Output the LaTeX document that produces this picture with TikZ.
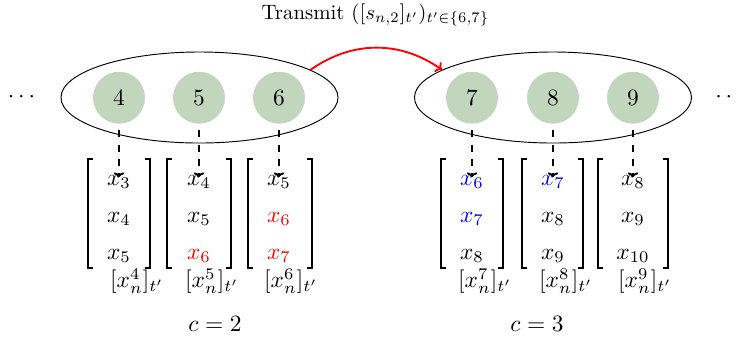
\documentclass[tikz,border=0pt]{standalone}
\usetikzlibrary{shapes.geometric,arrows.meta}
\definecolor{nodegreen}{RGB}{194,213,189}
\newcommand\mybrackets[4]{%
  \draw[brk] (#1+5,#3) -- (#1,#3) -- (#1,#4) -- (#1+5,#4);
  \draw[brk] (#2-5,#3) -- (#2,#3) -- (#2,#4) -- (#2-5,#4);}
\begin{document}
\begin{tikzpicture}[x=0.4274pt,y=-0.4274pt,
  cnode/.style={circle,fill=nodegreen,minimum size=22.2pt,inner sep=0pt},
  grp/.style={ellipse,draw,minimum width=118.4pt,minimum height=38.9pt,inner sep=0pt},
  entry/.style={inner sep=1pt},
  dasharrow/.style={dash pattern=on 3pt off 3pt,thick,shorten <=2.7pt,shorten >=-2pt,-{To[length=2pt,width=4.5pt]}},
  brk/.style={line width=0.7pt},
  lbl/.style={inner sep=0pt}]
\useasboundingbox (0,0) rectangle (737,337);
\node[scale=0.89] (title) at (375.5,15) {Transmit $([s_{n,2}]_{t'})_{t'\in\{6,7\}}$};
\node[grp] (L) at (199.5,97.5) {};
\node[grp] (R) at (553,97.5) {};
\node (dl) at (21.5,97) {$\cdots$};
\node (dr) at (729,97) {$\cdots$};
\node[cnode] (c4) at (119,97.7) {4};
\node[cnode] (c5) at (199,97.7) {5};
\node[cnode] (c6) at (279,97.7) {6};
\node[cnode] (c7) at (472,97.7) {7};
\node[cnode] (c8) at (553,97.7) {8};
\node[cnode] (c9) at (633,97.7) {9};
\draw[red,thick,-{To[length=2.5pt,width=5pt]}] (L.14) to[bend left=35] (R.166);
\mybrackets{88}{150}{159}{268}
\mybrackets{167}{231}{159}{268}
\mybrackets{248}{312}{159}{268}
\mybrackets{441}{503}{159}{268}
\mybrackets{522}{583}{159}{268}
\mybrackets{598}{668}{159}{268}
\node[entry] (a1) at (119,182) {$x_3$};
\node[entry] (a2) at (119,219) {$x_4$};
\node[entry] (a3) at (119,256) {$x_5$};
\node[entry] (b1) at (199,182) {$x_4$};
\node[entry] (b2) at (199,219) {$x_5$};
\node[entry] (b3) at (199,256) {\color{red}$x_6$};
\node[entry] (d1) at (279,182) {$x_5$};
\node[entry] (d2) at (279,219) {\color{red}$x_6$};
\node[entry] (d3) at (279,256) {\color{red}$x_7$};
\node[entry] (e1) at (472,182) {\color{blue}$x_6$};
\node[entry] (e2) at (472,219) {\color{blue}$x_7$};
\node[entry] (e3) at (472,256) {$x_8$};
\node[entry] (f1) at (553,182) {\color{blue}$x_7$};
\node[entry] (f2) at (553,219) {$x_8$};
\node[entry] (f3) at (553,256) {$x_9$};
\node[entry] (g1) at (633,182) {$x_8$};
\node[entry] (g2) at (633,219) {$x_9$};
\node[entry] (g3) at (633,256) {$x_{10}$};
\draw[dasharrow] (c4.south) -- (a1.north);
\draw[dasharrow] (c5.south) -- (b1.north);
\draw[dasharrow] (c6.south) -- (d1.north);
\draw[dasharrow] (c7.south) -- (e1.north);
\draw[dasharrow] (c8.south) -- (f1.north);
\draw[dasharrow] (c9.south) -- (g1.north);
\node[lbl] (l4) at (137,281) {$[x_n^4]_{t'}$};
\node[lbl] (l5) at (212,281) {$[x_n^5]_{t'}$};
\node[lbl] (l6) at (291,281) {$[x_n^6]_{t'}$};
\node[lbl] (l7) at (485,281) {$[x_n^7]_{t'}$};
\node[lbl] (l8) at (566,281) {$[x_n^8]_{t'}$};
\node[lbl] (l9) at (645,281) {$[x_n^9]_{t'}$};
\node (cL) at (215,324) {$c=2$};
\node (cR) at (537,324) {$c=3$};
\end{tikzpicture}
\end{document}
